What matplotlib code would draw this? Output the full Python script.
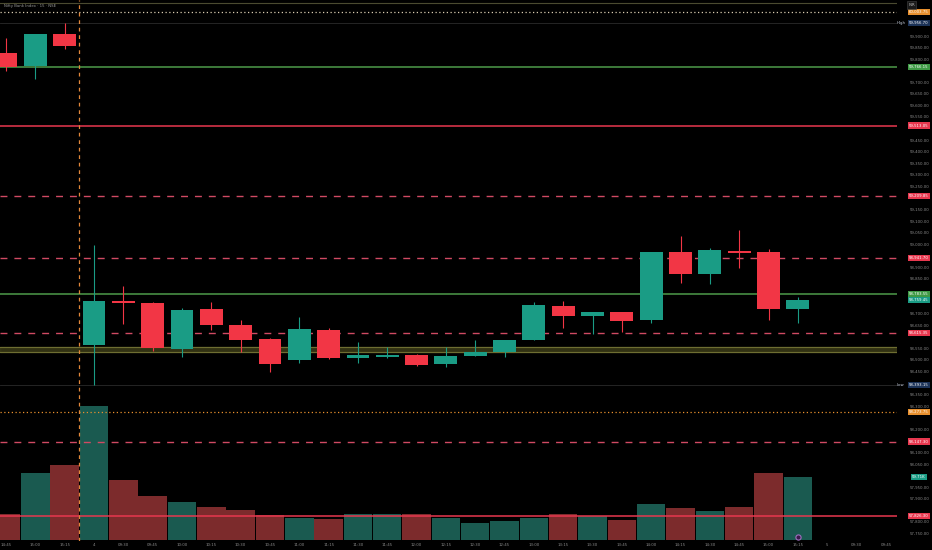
import numpy as np
import matplotlib.pyplot as plt

# 15 min candles, Nifty Bank Index (last 3 bars of day 3, full day 4)
opens = [59828, 59770, 59907, 58563, 58753, 58745, 58546, 58719, 58651, 58591,
         58500, 58631, 58508, 58513, 58523, 58482, 58518, 58533, 58588, 58733,
         58690, 58707, 58671, 58965, 58873, 58972, 58968, 58721]
highs = [59890, 59910, 59957, 58997, 58820, 58750, 58726, 58752, 58673, 58595,
         58684, 58637, 58576, 58557, 58526, 58555, 58586, 58586, 58752, 58756,
         58707, 58707, 58967, 59036, 58984, 59062, 58978, 58773]
lows = [59747, 59713, 59843, 58393, 58655, 58539, 58513, 58630, 58536, 58449,
        58488, 58504, 58486, 58510, 58474, 58469, 58517, 58514, 58586, 58637,
        58611, 58622, 58658, 58831, 58828, 58896, 58673, 58658]
closes = [59766, 59907, 59856, 58755, 58746, 58550, 58716, 58650, 58586, 58481,
          58633, 58510, 58520, 58520, 58480, 58517, 58534, 58586, 58737, 58691,
          58706, 58667, 58965, 58873, 58974, 58962, 58722, 58759]
volumes = [24.8, 63.5, 71.1, 127.9, 56.8, 41.9, 36.2, 31.7, 28.6, 23.8,
           20.9, 20.0, 24.8, 24.8, 25.0, 20.9, 16.5, 18.4, 21.2, 24.5,
           23.1, 19.0, 34.3, 30.7, 27.3, 31.1, 64.1, 59.7]  # thousands

time_labels = ['14:45', '15:00', '15:15', '4', '09:30', '09:45', '10:00', '10:15',
               '10:30', '10:45', '11:00', '11:15', '11:30', '11:45', '12:00', '12:15',
               '12:30', '12:45', '13:00', '13:15', '13:30', '13:45', '14:00', '14:15',
               '14:30', '14:45', '15:00', '15:15', '5', '09:30', '09:45']
session_break = 2.5
event_bars = [27]

green_levels = [59766.15, 58783.55]
red_levels = [59513.05, 57826.30]
dashed_levels = [59209.85, 58941.70, 58615.35, 58147.30]
dotted_levels = [60003.75, 58273.75]
zone = (58534, 58557)
high_val, low_val = 59956.70, 58393.15
last_price = 58759.45
last_volume = '59.71K'

UP = '#1a9c85'
DOWN = '#f23645'
UP_VOL = '#1a5a50'
DOWN_VOL = '#7c2b2c'

fig = plt.figure(figsize=(9.32, 5.5), dpi=100, facecolor='black')
ax = fig.add_axes([0, 9 / 550, 897 / 932, 541 / 550])
axv = ax.twinx()
ax.set_zorder(axv.get_zorder() + 1)
ax.patch.set_visible(False)
axv.set_facecolor('black')

x = np.arange(len(opens))
o = np.array(opens, float)
c = np.array(closes, float)
up = c >= o

# volume
axv.bar(x, volumes, width=0.97, color=[UP_VOL if u else DOWN_VOL for u in up], zorder=1)
axv.scatter(event_bars, [3] * len(event_bars), s=14, facecolor='#3a1a4a',
            edgecolor='#a070c0', linewidth=0.8, zorder=3)
axv.set_ylim(-0.952, 514.1)
axv.set_yticks([])

# candles
cols = [UP if u else DOWN for u in up]
ax.vlines(x, lows, highs, color=cols, linewidth=0.8, zorder=4)
body = np.maximum(np.abs(c - o), 5)
ax.bar(x, body, bottom=np.minimum(o, c), width=0.78, color=cols, zorder=5)

# levels
for v in green_levels:
    ax.axhline(v, color='#4e9a4a', linewidth=1.1, zorder=3)
for v in red_levels:
    ax.axhline(v, color='#e8384f', linewidth=1.1, zorder=3)
for v in dashed_levels:
    ax.axhline(v, color='#d04a63', linewidth=1.0, dashes=(5, 5), zorder=3)
ax.axhline(dotted_levels[0], color='#d8cbb0', linewidth=0.9, linestyle=(0, (1, 2)), zorder=3)
ax.axhline(dotted_levels[1], color='#e8902e', linewidth=0.9, linestyle=(0, (1, 2)), zorder=3)
ax.axhspan(zone[0], zone[1], color='#3e3e18', alpha=0.8, zorder=2)
ax.axhline(zone[0], color='#6e6e32', linewidth=0.8, zorder=2)
ax.axhline(zone[1], color='#6e6e32', linewidth=0.8, zorder=2)
ax.axhline(high_val, color='#2a2a2a', linewidth=0.6, zorder=2)
ax.axhline(low_val, color='#2a2a2a', linewidth=0.6, zorder=2)
ax.axhline(60042, color='#4a4a30', linewidth=0.8, zorder=2)
ax.axvline(session_break, color='#e0873a', linewidth=0.9, dashes=(3, 3), zorder=3)

ax.set_xlim(-0.2046, 30.38)
ax.set_ylim(57717.6, 60055.6)

# price ticks, hidden where a coloured tag sits (like the reference)
vol_tag_price = 57994
tag_prices = green_levels + red_levels + dashed_levels + dotted_levels + \
    [high_val, low_val, last_price, vol_tag_price]
ticks = [t for t in np.arange(57750, 60000, 50)
         if min(abs(t - p) for p in tag_prices) > 26]
ax.yaxis.tick_right()
ax.set_yticks(ticks)
ax.set_yticklabels([f'{v:,.2f}' for v in ticks])
ax.tick_params(axis='y', length=0, labelsize=2.8, labelcolor='#8a8a8a', pad=9)
ax.set_xticks(np.arange(len(time_labels)))
ax.set_xticklabels(time_labels)
ax.tick_params(axis='x', length=0, labelsize=2.8, labelcolor='#8a8a8a', pad=1.5)
for a in (ax, axv):
    for s in a.spines.values():
        s.set_visible(False)

yt = ax.get_yaxis_transform()


def tag(val, text, bg, fg='white'):
    ax.text(1.0245, val, text, transform=yt, ha='center', va='center', fontsize=2.8,
            color=fg, clip_on=False, zorder=10,
            bbox=dict(boxstyle='square,pad=0.3', facecolor=bg, edgecolor='none'))


tag(green_levels[0], f'{green_levels[0]:,.2f}', '#3f9a45')
tag(green_levels[1], f'{green_levels[1]:,.2f}', '#3f9a45')
tag(last_price, f'{last_price:,.2f}', UP)
for v in red_levels + dashed_levels:
    tag(v, f'{v:,.2f}', '#e8384f')
tag(dotted_levels[0], f'{dotted_levels[0]:,.2f}', '#e8902e')
tag(dotted_levels[1], f'{dotted_levels[1]:,.2f}', '#e8902e')
tag(high_val, f'{high_val:,.2f}', '#1c3358')
tag(low_val, f'{low_val:,.2f}', '#1c3358')
ax.text(1.0, high_val, 'High', transform=yt, ha='left', va='center', fontsize=2.8,
        color='#c8d0e0', clip_on=False, zorder=10)
ax.text(1.0, low_val, 'Low', transform=yt, ha='left', va='center', fontsize=2.8,
        color='#c8d0e0', clip_on=False, zorder=10)
axv.text(1.0245, volumes[-1], last_volume, transform=axv.get_yaxis_transform(),
         ha='center', va='center', fontsize=2.8, color='white', clip_on=False, zorder=10,
         bbox=dict(boxstyle='square,pad=0.3', facecolor=UP, edgecolor='none'))
fig.text(978 / 1000, 545 / 550, 'INR', ha='center', va='center', fontsize=2.8, color='#c0c0c0',
         bbox=dict(boxstyle='square,pad=0.4', facecolor='#1a1a1a', edgecolor='#444444', linewidth=0.4))
fig.text(4 / 932, 544 / 550, 'Nifty Bank Index · 15 · NSE', ha='left', va='center',
         fontsize=2.8, color='#9a9a9a')

plt.savefig('out.png', dpi=100, facecolor='black')
